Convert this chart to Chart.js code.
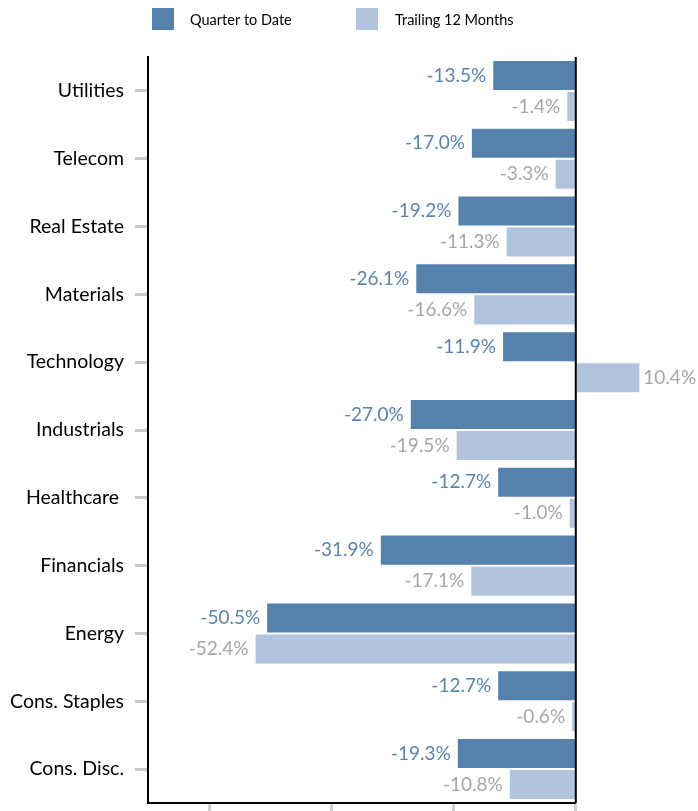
<!DOCTYPE html>
<html>
<head>
<meta charset="utf-8">
<script src="https://cdn.jsdelivr.net/npm/chart.js@4/dist/chart.umd.min.js"></script>
<style>
  html, body { margin: 0; padding: 0; background: #fff; }
  #wrap { width: 698px; height: 811px; position: relative; }
</style>
</head>
<body>
<div id="wrap"><canvas id="myChart"></canvas></div>
<script>
// sector returns, percent
const sectors = ["Utilities", "Telecom", "Real Estate", "Materials", "Technology", "Industrials",
    "Healthcare ", "Financials", "Energy", "Cons. Staples", "Cons. Disc."];
const quarterToDate = [-13.5, -17.0, -19.2, -26.1, -11.9, -27.0, -12.7, -31.9, -50.5, -12.7, -19.3];
const trailing12 = [-1.4, -3.3, -11.3, -16.6, 10.4, -19.5, -1.0, -17.1, -52.4, -0.6, -10.8];
const xTicks = [-60, -40, -20, 0];

const DARK = "#5581ad";
const LIGHT = "#b0c4de";
const FONT = "Lato, 'Open Sans', sans-serif";

// value labels at the bar ends
const barLabels = {
    id: "barLabels",
    afterDatasetsDraw(chart) {
        const ctx = chart.ctx;
        ctx.save();
        ctx.font = "19px " + FONT;
        ctx.textBaseline = "middle";
        chart.data.datasets.forEach((ds, i) => {
            const meta = chart.getDatasetMeta(i);
            ctx.fillStyle = i === 0 ? "#5a84b3" : "#a6a6a6";
            meta.data.forEach((bar, j) => {
                const v = ds.data[j];
                const txt = v.toFixed(1) + "%";
                if (v < 0) {
                    ctx.textAlign = "right";
                    ctx.fillText(txt, bar.x - 7, bar.y);
                } else {
                    ctx.textAlign = "left";
                    ctx.fillText(txt, bar.x + 4, bar.y);
                }
            });
        });
        ctx.restore();
    },
};

// axis lines + legend
const frame = {
    id: "frame",
    afterDraw(chart) {
        const ctx = chart.ctx;
        const a = chart.chartArea;
        const x0 = chart.scales.x.getPixelForValue(0);
        ctx.save();
        ctx.strokeStyle = "#000";
        ctx.lineWidth = 2;
        ctx.beginPath();
        ctx.moveTo(a.left - 1, a.bottom);
        ctx.lineTo(x0, a.bottom);
        ctx.moveTo(x0, a.top);
        ctx.lineTo(x0, a.bottom);
        ctx.stroke();

        // legend
        const items = [[152, 190], [356, 395]];
        ctx.font = "14.5px " + FONT;
        ctx.textBaseline = "middle";
        ctx.textAlign = "left";
        chart.data.datasets.forEach((ds, i) => {
            ctx.fillStyle = ds.backgroundColor;
            ctx.fillRect(items[i][0], 8, 22, 22);
            ctx.fillStyle = "#000";
            ctx.fillText(ds.label, items[i][1], 20);
        });
        ctx.restore();
    },
};

new Chart(document.getElementById("myChart"), {
    type: "bar",
    data: {
        labels: sectors,
        datasets: [
            {
                label: "Quarter to Date",
                data: quarterToDate,
                backgroundColor: DARK,
                categoryPercentage: 0.915,
                barPercentage: 0.935,
            },
            {
                label: "Trailing 12 Months",
                data: trailing12,
                backgroundColor: LIGHT,
                categoryPercentage: 0.915,
                barPercentage: 0.935,
            },
        ],
    },
    options: {
        indexAxis: "y",
        responsive: true,
        maintainAspectRatio: false,
        animation: false,
        layout: { padding: { top: 57, right: 0, left: 0, bottom: 0 } },
        plugins: {
            legend: { display: false },
            tooltip: { enabled: false },
        },
        scales: {
            x: {
                min: -70,
                max: 20,
                afterBuildTicks(scale) {
                    scale.ticks = xTicks.map((v) => ({ value: v }));
                },
                afterFit(scale) {
                    scale.height = 8;
                    scale.paddingLeft = 0;
                    scale.paddingRight = 0;
                },
                border: { display: false },
                grid: {
                    drawOnChartArea: false,
                    tickLength: 8,
                    tickColor: "#d0d0d0",
                    tickWidth: 3,
                },
                ticks: { display: false },
            },
            y: {
                afterFit(scale) {
                    scale.width = 148;
                    scale.paddingTop = 0;
                    scale.paddingBottom = 0;
                },
                border: { display: true, color: "#000", width: 2 },
                grid: {
                    offset: false,
                    drawOnChartArea: false,
                    tickLength: 13,
                    tickColor: "#c8c8c8",
                    tickWidth: 3,
                },
                ticks: {
                    color: "#000",
                    padding: 11,
                    font: { family: FONT, size: 19.5 },
                },
            },
        },
    },
    plugins: [barLabels, frame],
});
</script>
</body>
</html>
